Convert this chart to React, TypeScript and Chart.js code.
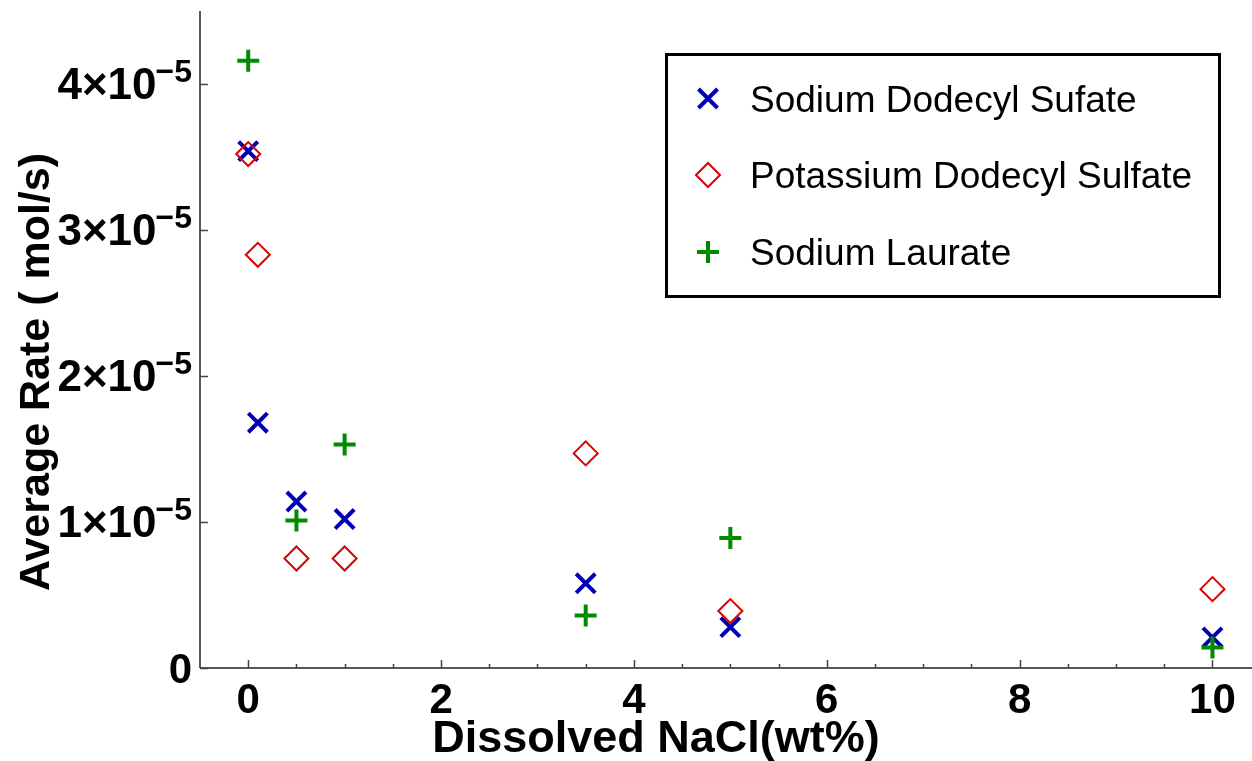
import React, { useEffect, useRef } from "react";
import { Chart, registerables } from "chart.js";

Chart.register(...registerables);

// ---- Data ----
const sdsX = [0, 0.1, 0.5, 1, 3.5, 5, 10];
const sdsRate = [3.54e-5, 1.68e-5, 1.14e-5, 1.02e-5, 0.58e-5, 0.28e-5, 0.21e-5];
const pdsX = [0, 0.1, 0.5, 1, 3.5, 5, 10];
const pdsRate = [3.52e-5, 2.83e-5, 0.75e-5, 0.75e-5, 1.47e-5, 0.39e-5, 0.54e-5];
const slX = [0, 0.5, 1, 3.5, 5, 10];
const slRate = [4.16e-5, 1.01e-5, 1.53e-5, 0.36e-5, 0.89e-5, 0.14e-5];

const seriesNames = ["Sodium Dodecyl Sufate", "Potassium Dodecyl Sulfate", "Sodium Laurate"];
const xTickValues = [0, 2, 4, 6, 8, 10];
const xTickLabels = ["0", "2", "4", "6", "8", "10"];
const xMinorStep = 0.5;
const yTickValues = [0, 1e-5, 2e-5, 3e-5, 4e-5];
const yTickMantissa = ["0", "1", "2", "3", "4"];
const xTitle = "Dissolved NaCl(wt%)";
const yTitle = "Average Rate ( mol/s)";

const BLUE = "#0000b4";
const RED = "#dd0000";
const GREEN = "#008a00";
const FONT = '"Liberation Sans", Arial, sans-serif';

function toPoints(xs: number[], ys: number[]) {
  return xs.map((x, i) => ({ x, y: ys[i] }));
}

function drawMarker(ctx: CanvasRenderingContext2D, kind: string, x: number, y: number) {
  ctx.save();
  ctx.beginPath();
  if (kind === "x") {
    const d = 9.5;
    ctx.strokeStyle = BLUE;
    ctx.lineWidth = 4;
    ctx.moveTo(x - d, y - d);
    ctx.lineTo(x + d, y + d);
    ctx.moveTo(x + d, y - d);
    ctx.lineTo(x - d, y + d);
  } else if (kind === "d") {
    const r = 12;
    ctx.strokeStyle = RED;
    ctx.lineWidth = 2;
    ctx.moveTo(x - r, y);
    ctx.lineTo(x, y - r);
    ctx.lineTo(x + r, y);
    ctx.lineTo(x, y + r);
    ctx.closePath();
  } else {
    const r = 11;
    ctx.strokeStyle = GREEN;
    ctx.lineWidth = 4;
    ctx.moveTo(x - r, y);
    ctx.lineTo(x + r, y);
    ctx.moveTo(x, y - r);
    ctx.lineTo(x, y + r);
  }
  ctx.stroke();
  ctx.restore();
}

const decorPlugin = {
  id: "decor",
  afterDatasetsDraw(chart: any) {
    const ctx: CanvasRenderingContext2D = chart.ctx;
    const xs = chart.scales.x;
    const ys = chart.scales.y;
    const area = chart.chartArea;
    const y0 = ys.getPixelForValue(0);
    ctx.save();

    // axes lines
    ctx.strokeStyle = "#222";
    ctx.lineWidth = 1.5;
    ctx.beginPath();
    ctx.moveTo(area.left, area.top);
    ctx.lineTo(area.left, y0);
    ctx.moveTo(area.left, y0);
    ctx.lineTo(area.right, y0);
    ctx.stroke();

    // ticks (inward)
    ctx.strokeStyle = "#444";
    ctx.lineWidth = 1.5;
    ctx.beginPath();
    for (let v = 0; v <= xs.max + 1e-9; v += xMinorStep) {
      const px = Math.round(xs.getPixelForValue(v)) + 0.5;
      const major = xTickValues.includes(v);
      ctx.moveTo(px, y0);
      ctx.lineTo(px, y0 - (major ? 8 : 4));
    }
    for (const v of yTickValues) {
      const py = Math.round(ys.getPixelForValue(v)) + 0.5;
      ctx.moveTo(area.left, py);
      ctx.lineTo(area.left + 8, py);
    }
    ctx.stroke();

    // x tick labels
    ctx.fillStyle = "#000";
    ctx.font = `bold 42px ${FONT}`;
    ctx.textAlign = "center";
    ctx.textBaseline = "alphabetic";
    xTickValues.forEach((v, i) => {
      ctx.fillText(xTickLabels[i], xs.getPixelForValue(v), 713);
    });

    // y tick labels
    const rightEdge = 192;
    yTickValues.forEach((v, i) => {
      const py = ys.getPixelForValue(v);
      if (v === 0) {
        ctx.font = `bold 42px ${FONT}`;
        ctx.textAlign = "right";
        ctx.fillText("0", rightEdge, py + 15);
      } else {
        ctx.font = `bold 32px ${FONT}`;
        const sup = "\u22125";
        const supW = ctx.measureText(sup).width;
        ctx.textAlign = "right";
        ctx.fillText(sup, rightEdge, py - 2);
        ctx.font = `bold 44px ${FONT}`;
        ctx.fillText(yTickMantissa[i] + "\u00d710", rightEdge - supW + 1, py + 15);
      }
    });

    // axis titles
    ctx.font = `bold 45px ${FONT}`;
    ctx.textAlign = "center";
    ctx.fillText(xTitle, 656, 752);
    ctx.font = `bold 43px ${FONT}`;
    ctx.save();
    ctx.translate(49, 372);
    ctx.rotate(-Math.PI / 2);
    ctx.fillText(yTitle, 0, 0);
    ctx.restore();

    // legend
    ctx.fillStyle = "#fff";
    ctx.fillRect(666.5, 54.5, 553, 242);
    ctx.strokeStyle = "#000";
    ctx.lineWidth = 3;
    ctx.strokeRect(666.5, 54.5, 553, 242);
    const kinds = ["x", "d", "p"];
    const rows = [98.5, 175, 252];
    ctx.font = `37px ${FONT}`;
    ctx.textAlign = "left";
    seriesNames.forEach((name, i) => {
      drawMarker(ctx, kinds[i], 708, rows[i]);
      ctx.fillStyle = "#000";
      ctx.fillText(name, 750, rows[i] + 13);
    });

    ctx.restore();
  },
};

export default function App() {
  const ref = useRef<HTMLCanvasElement | null>(null);
  useEffect(() => {
    if (!ref.current) return;
    const chart = new Chart(ref.current, {
      type: "scatter",
      data: {
        datasets: [
          {
            label: seriesNames[0],
            data: toPoints(sdsX, sdsRate),
            pointStyle: "crossRot",
            pointRadius: 13.5,
            pointHoverRadius: 13.5,
            borderWidth: 4,
            borderColor: BLUE,
            backgroundColor: BLUE,
            order: 3,
          },
          {
            label: seriesNames[1],
            data: toPoints(pdsX, pdsRate),
            pointStyle: "rectRot",
            pointRadius: 12,
            pointHoverRadius: 12,
            borderWidth: 2,
            borderColor: RED,
            backgroundColor: "rgba(0,0,0,0)",
            order: 2,
          },
          {
            label: seriesNames[2],
            data: toPoints(slX, slRate),
            pointStyle: "cross",
            pointRadius: 11,
            pointHoverRadius: 11,
            borderWidth: 4,
            borderColor: GREEN,
            backgroundColor: GREEN,
            order: 1,
          },
        ],
      },
      options: {
        responsive: false,
        animation: false,
        devicePixelRatio: 1,
        layout: { autoPadding: false, padding: { top: 11, left: 0, right: 0, bottom: 0 } },
        plugins: { legend: { display: false }, tooltip: { enabled: false }, title: { display: false } },
        scales: {
          x: {
            type: "linear",
            min: -0.5,
            max: 10.41,
            grid: { display: false },
            border: { display: false },
            ticks: { display: false },
            afterFit: (s: any) => {
              s.height = 93;
            },
          },
          y: {
            type: "linear",
            min: 0,
            max: 4.5e-5,
            grid: { display: false },
            border: { display: false },
            ticks: { display: false },
            afterFit: (s: any) => {
              s.width = 200;
            },
          },
        },
      },
      plugins: [decorPlugin],
    });
    return () => chart.destroy();
  }, []);
  return (
    <div style={{ position: "fixed", left: 0, top: 0, width: 1252, height: 761, background: "#fff" }}>
      <canvas ref={ref} width={1252} height={761} style={{ display: "block" }} />
    </div>
  );
}
